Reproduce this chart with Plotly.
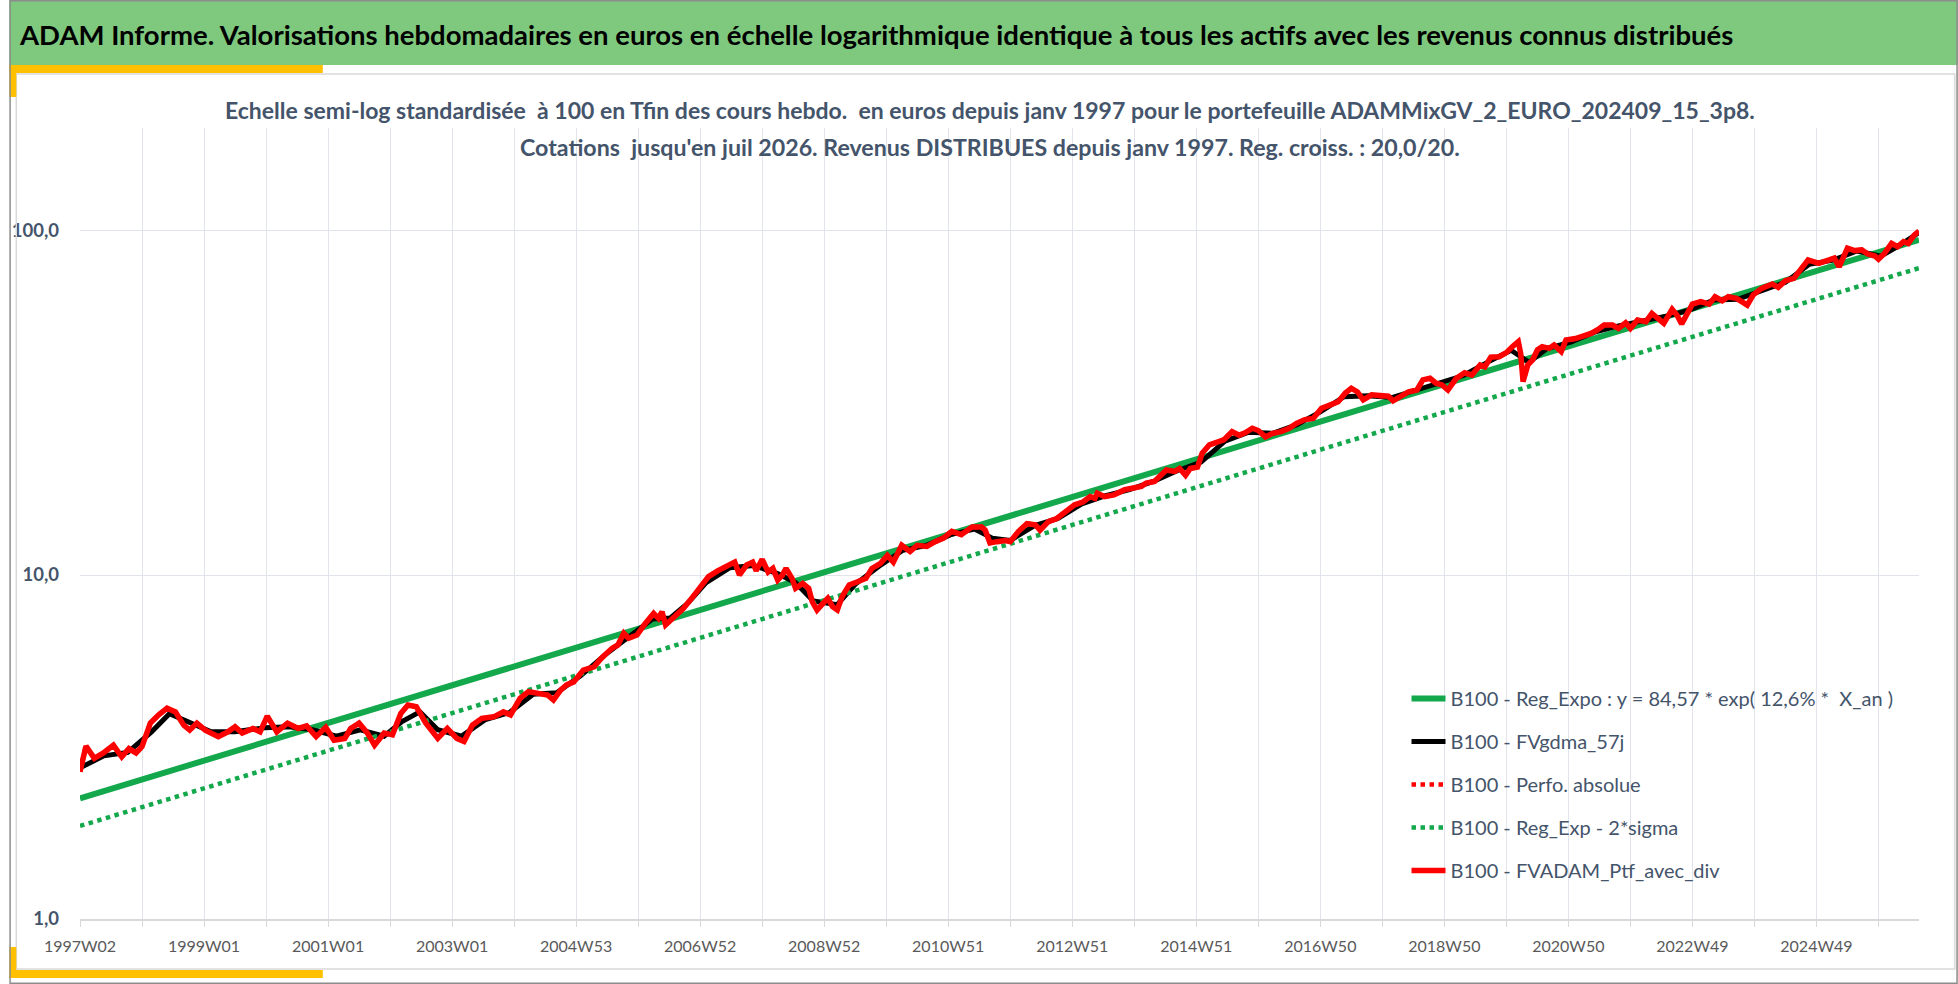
import plotly.graph_objects as go

# ---- data (x = week index since 1997W02) ----
tick_labels = ["1997W02", "1999W01", "2001W01", "2003W01", "2004W53", "2006W52",
               "2008W52", "2010W51", "2012W51", "2014W51", "2016W50", "2018W50",
               "2020W50", "2022W49", "2024W49"]

last_week = 1542

ptf_weeks = [0, 5, 12, 19, 28, 35, 41, 47, 52, 59, 66, 73, 80, 87, 92, 98, 105, 116, 124, 130,
             136, 145, 151, 157, 165, 174, 183, 190, 198, 206, 213, 222, 227, 234, 241, 247, 255, 262, 269, 275,
             282, 290, 300, 308, 316, 322, 329, 337, 347, 355, 361, 369, 376, 385, 392, 397, 403, 408,
             414, 422, 431, 437, 446, 451, 456, 460, 467, 474, 481, 485, 488, 491, 499, 506, 514, 521, 527, 535,
             542, 549, 553, 559, 564, 567, 572, 577, 581, 585, 589, 592, 597, 600, 606, 611, 614, 618, 623, 627,
             631, 635, 639, 645, 652, 659, 664, 671, 677, 682, 689, 696, 702, 710, 717, 724, 731, 739, 748, 756,
             759, 763, 769, 776,
             780, 787, 794, 801, 805, 812, 819, 826, 834, 841, 847, 851, 853, 859, 867, 876, 883, 890, 894, 901,
             905, 911, 918, 922, 927, 931, 937, 941, 947, 954, 959, 966, 972, 977, 983, 988, 994, 1000, 1007, 1014,
             1020, 1027, 1034, 1041, 1048, 1055, 1061, 1066, 1071, 1076, 1083, 1090, 1097, 1101, 1107, 1114, 1121,
             1126, 1132, 1137, 1142,
             1147, 1154, 1161, 1167, 1174, 1178, 1183, 1190, 1196, 1201, 1206, 1208, 1210, 1214, 1218, 1222, 1226,
             1232, 1236, 1242, 1246, 1254, 1260, 1267, 1272, 1278, 1285, 1290, 1296, 1300, 1306, 1313, 1318, 1324,
             1328, 1335, 1339, 1343, 1348, 1352, 1359, 1366, 1371, 1377, 1382, 1389, 1398, 1403, 1410, 1419, 1424,
             1430, 1437, 1444, 1449, 1458, 1466, 1471, 1475, 1482, 1488, 1494, 1499, 1505, 1508, 1513, 1519, 1524,
             1529, 1533, 1538, 1542]

ptf_values = [2.68, 3.18, 2.93, 3.03, 3.2, 2.96, 3.13, 3.04, 3.17, 3.71, 3.92, 4.10, 4.0, 3.66, 3.54, 3.71, 3.54, 3.39, 3.50, 3.62,
              3.47, 3.58, 3.50, 3.89, 3.50, 3.71, 3.58, 3.64, 3.39, 3.61, 3.31, 3.35, 3.58, 3.71, 3.47, 3.2, 3.47, 3.43, 3.96, 4.19,
              4.14, 3.71, 3.35, 3.58, 3.35, 3.28, 3.66, 3.83, 3.87, 4.0, 3.92, 4.38, 4.58, 4.53, 4.48, 4.33, 4.63, 4.79,
              4.89, 5.29, 5.41, 5.72, 6.12, 6.26, 6.77, 6.55, 6.69, 7.23, 7.73, 7.48, 7.82, 7.16, 7.56, 8.0, 8.65, 9.25, 9.89, 10.3,
              10.6, 10.9, 10.0, 10.7, 10.9, 10.3, 11.1, 10.2, 10.45, 9.67, 10.0, 10.45, 9.78, 9.15, 9.45, 9.15, 8.36, 7.91, 8.27, 8.55,
              8.09, 7.91, 8.65, 9.35, 9.56, 9.78, 10.45, 10.8, 11.4, 10.9, 12.2, 11.7, 12.2, 12.1, 12.5, 12.8, 13.4, 13.1, 13.8, 13.8,
              13.5, 12.4, 12.5, 12.6,
              12.5, 13.4, 14.1, 14.0, 13.5, 14.3, 14.6, 15.3, 16.0, 16.3, 16.9, 16.7, 17.3, 16.9, 17.1, 17.7, 17.9, 18.1, 18.5, 18.7,
              19.3, 20.2, 20.0, 20.4, 19.5, 20.4, 20.6, 22.6, 23.9, 24.4, 24.7, 26.1, 25.5, 25.9, 26.7, 26.3, 25.2, 25.8, 26.1, 26.7,
              27.6, 28.3, 28.5, 30.5, 31.2, 31.9, 33.8, 34.9, 34.1, 32.3, 33.4, 33.1, 33.1, 32.1, 33.0, 34.1, 34.5,
              36.9, 37.3, 36.1, 35.7,
              34.5, 37.3, 38.7, 38.1, 40.8, 40.3, 43.0, 43.1, 44.3, 46.1, 47.7, 44.1, 36.5, 40.8, 42.2, 45.1, 46.1,
              45.6, 46.6, 44.6, 48.2, 48.7, 49.3, 50.4, 51.5, 53.3, 53.3, 52.1, 54.1, 52.1, 55.1, 54.5, 57.6, 55.7,
              53.9, 59.2, 57.0, 53.7, 57.6, 61.3, 62.3, 61.3, 64.4, 62.7, 64.4, 63.7, 60.9, 65.2, 68.1, 70.1, 68.6,
              71.7, 72.8, 78.7, 82.4, 80.5, 82.4, 83.4, 78.7, 89.1, 87.7, 88.1, 85.7, 84.6, 82.8, 86.1, 92.0, 90.0,
              93.1, 92.0, 97.3, 100.0]

# smoothed curve (moving average), mostly hidden below the red line
gdma_weeks = [0, 20, 40, 60, 75, 90, 110, 130, 155, 175, 195, 215, 235, 255, 270, 285, 300, 320, 340, 360,
              380, 400, 420, 440, 460, 480, 495, 510, 525, 545, 565, 585, 600, 615, 635, 650, 670, 690, 710, 730,
              750, 765, 780, 800, 820, 840, 860, 880, 900, 920, 940, 960, 980, 1000, 1020, 1040, 1060, 1080, 1100,
              1120, 1140, 1160, 1180, 1200, 1215, 1230, 1250, 1270, 1290, 1310, 1330, 1350, 1370, 1390, 1410, 1430,
              1450, 1470, 1490, 1510, 1525, 1542]
gdma_values = [2.75, 2.98, 3.05, 3.5, 3.95, 3.75, 3.5, 3.5, 3.6, 3.62, 3.55, 3.4, 3.55, 3.4, 3.75, 4.0, 3.55, 3.4, 3.8, 3.98,
               4.5, 4.55, 5.1, 5.85, 6.6, 7.45, 7.5, 8.3, 9.5, 10.5, 10.65, 10.1, 9.5, 8.4, 8.2, 9.4, 10.6, 11.8, 12.2, 13.1,
               13.6, 12.8, 12.6, 13.9, 14.6, 16.1, 17.0, 17.7, 18.7, 20.1, 21.3, 24.5, 26.0, 25.8, 27.3, 29.8, 33.0, 33.2, 32.8,
               34.5, 36.3, 38.0, 41.5, 45.0, 41.5, 45.5, 47.5, 50.8, 53.0, 54.8, 56.5, 59.0, 63.0, 63.3, 67.0, 71.0,
               80.0, 82.3, 87.5, 84.5, 90.5, 99.0]

# exponential regression and regression - 2 sigma (straight on a log axis)
reg_weeks = [0, last_week]
reg_values = [2.243, 94.2]
reg_low_values = [1.864, 78.0]

names = ["B100 - Reg_Expo : y = 84,57 * exp( 12,6% *\u00a0\u00a0X_an )",
         "B100 - FVgdma_57j",
         "B100 - Perfo. absolue",
         "B100 - Reg_Exp - 2*sigma",
         "B100 - FVADAM_Ptf_avec_div"]

# ---- geometry helpers (pixels of the 1958x984 page -> paper coords) ----
W, H = 1958, 984
L, R, T, B = 71, 1919, 128, 919


def px(x):
    return (x - L) / (R - L)


def py(y):
    return (B - y) / (B - T)


def box(x0, y0, x1, y1, **kw):
    return dict(type="rect", xref="paper", yref="paper",
                x0=px(x0), x1=px(x1), y0=py(y1), y1=py(y0), **kw)


def label(text, x, y, anchor, size, color, bold):
    return dict(text=text, xref="paper", yref="paper", x=px(x), y=py(y),
                xanchor=anchor, yanchor="middle", showarrow=False,
                font=dict(family=FONT, size=size, color=color,
                          weight="bold" if bold else "normal"))


SLATE = "#44546A"
GREEN = "#12A84B"
YELLOW = "#FFC000"
FONT = "Lato"

fig = go.Figure()
fig.add_trace(go.Scatter(x=reg_weeks, y=reg_values, mode="lines", name=names[0], legendgroup="a",
                         line=dict(color=GREEN, width=6)))
fig.add_trace(go.Scatter(x=gdma_weeks, y=gdma_values, mode="lines", name=names[1], legendgroup="b",
                         line=dict(color="black", width=5)))
fig.add_trace(go.Scatter(x=ptf_weeks, y=ptf_values, mode="lines", name=names[2], legendgroup="c",
                         line=dict(color="#FF0000", width=4.5, dash="4.5px,4.5px")))
fig.add_trace(go.Scatter(x=reg_weeks, y=reg_low_values, mode="lines", name=names[3], legendgroup="d",
                         line=dict(color=GREEN, width=4.5, dash="4.5px,4.5px")))
fig.add_trace(go.Scatter(x=ptf_weeks, y=ptf_values, mode="lines", name=names[4], legendgroup="e",
                         line=dict(color="#FF0000", width=5.5)))

tickvals = list(range(0, last_week, 52))
ticktext = [tick_labels[i // 2] if i % 2 == 0 else "" for i in range(len(tickvals))]

fig.update_xaxes(range=[0, last_week], tickvals=tickvals, ticktext=ticktext,
                 showgrid=True, gridcolor="#E1E4EA", gridwidth=1.3,
                 showline=True, linecolor="#D9D9D9", linewidth=1.5,
                 ticks="outside", ticklen=6, tickcolor="#D9D9D9",
                 tickfont=dict(family=FONT, size=16, color="#595959"),
                 ticklabelstandoff=6, zeroline=False)
fig.update_yaxes(type="log", range=[0, 2.2994], tickvals=[1, 10, 100], ticktext=["1,0", "10,0", "100,0"],
                 showgrid=True, gridcolor="#E1E4EA", gridwidth=1.3, showline=False, zeroline=False,
                 tickfont=dict(family=FONT, size=18.5, color=SLATE, weight="bold"),
                 ticklabelstandoff=20)

shapes = [
    box(0, 0, W, 65, fillcolor="#7FC97F", line_width=0),                 # green header band
    box(7, 74, 1955, 969, line=dict(color="#D9D9D9", width=1.5)),        # chart frame
    box(0, 65, 315, 73, fillcolor=YELLOW, line_width=0),                 # yellow corner marks
    box(0, 65, 7, 97, fillcolor=YELLOW, line_width=0),
    box(0, 970, 315, 978, fillcolor=YELLOW, line_width=0),
    box(0, 947, 7, 978, fillcolor=YELLOW, line_width=0),
    box(0.75, 0.75, W - 0.75, H - 0.75, line=dict(color="#8C8C8C", width=1.5)),  # outer border
]

annotations = [
    label("ADAM Informe. Valorisations hebdomadaires en euros en échelle logarithmique identique à tous les actifs avec les revenus connus distribués",
          8, 34, "left", 27.5, "black", True),
    label("Echelle semi-log standardisée \u00a0à 100 en Tfin des cours hebdo. \u00a0en euros depuis janv 1997 pour le portefeuille ADAMMixGV_2_EURO_202409_15_3p8.",
          985, 110, "center", 23, SLATE, True),
    label("Cotations \u00a0jusqu'en juil 2026. Revenus DISTRIBUES depuis janv 1997. Reg. croiss. : 20,0/20.",
          985, 147, "center", 23.2, SLATE, True),
]

fig.update_layout(
    width=W, height=H,
    margin=dict(l=L, r=W - R, t=T, b=H - B),
    paper_bgcolor="white", plot_bgcolor="white",
    shapes=shapes, annotations=annotations,
    legend=dict(x=px(1404), y=py(679), xanchor="left", yanchor="top",
                bgcolor="rgba(0,0,0,0)", tracegroupgap=14, itemwidth=34,
                font=dict(family=FONT, size=20, color=SLATE)),
    showlegend=True,
)

fig.write_html("out.html", config={"displayModeBar": False},
               post_script="document.body.style.margin='0';document.body.style.overflow='hidden';")
